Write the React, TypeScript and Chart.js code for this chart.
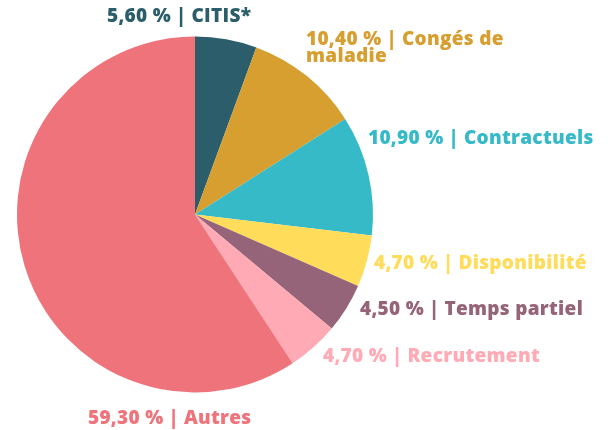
import React, { useEffect, useRef } from "react";
import { Chart, registerables } from "chart.js";

Chart.register(...registerables);

const categories = ["CITIS*", "Congés de maladie", "Contractuels", "Disponibilité", "Temps partiel", "Recrutement", "Autres"];
const values = [5.6, 10.4, 10.9, 4.7, 4.5, 4.7, 59.3];
const valueLabels = ["5,60 %", "10,40 %", "10,90 %", "4,70 %", "4,50 %", "4,70 %", "59,30 %"];
const colors = ["#2b5d6a", "#d69f30", "#36bac8", "#ffdc5a", "#966479", "#ffaab5", "#ef737b"];

// label layout: offset of label's left edge / vertical centre from the pie centre, in pixels
const labelOffsets: [number, number][] = [
  [-88, -197.5],
  [111, -175],
  [173, -76],
  [179, 49.5],
  [165, 95],
  [128, 142],
  [-107, 204],
];
// line breaks for wrapped labels
const labelLines: string[][] = [
  ["5,60 % | CITIS*"],
  ["10,40 % | Congés de", "maladie"],
  ["10,90 % | Contractuels"],
  ["4,70 % | Disponibilité"],
  ["4,50 % | Temps partiel"],
  ["4,70 % | Recrutement"],
  ["59,30 % | Autres"],
];

const labelPlugin = {
  id: "outerLabels",
  afterDatasetsDraw(chart: any) {
    const ctx = chart.ctx as CanvasRenderingContext2D;
    const meta = chart.getDatasetMeta(0);
    const arc0 = meta.data[0];
    if (!arc0) return;
    const cx = arc0.x;
    const cy = arc0.y;
    ctx.save();
    ctx.font = "800 19px 'Open Sans'";
    ctx.textAlign = "left";
    ctx.textBaseline = "middle";
    (ctx as any).letterSpacing = "0.3px";
    labelLines.forEach((lines, i) => {
      ctx.fillStyle = colors[i];
      const [dx, dy] = labelOffsets[i];
      lines.forEach((line, j) => {
        ctx.fillText(line, cx + dx, cy + dy + j * 17.5);
      });
    });
    ctx.restore();
  },
};

export default function App() {
  const ref = useRef<HTMLCanvasElement | null>(null);
  useEffect(() => {
    document.body.style.margin = "0";
    if (!ref.current) return;
    const chart = new Chart(ref.current, {
      type: "pie",
      data: {
        labels: categories.map((c, i) => `${valueLabels[i]} | ${c}`),
        datasets: [
          {
            data: values,
            backgroundColor: colors,
            borderWidth: 0,
            hoverOffset: 0,
          },
        ],
      },
      options: {
        responsive: false,
        animation: false,
        layout: { padding: { left: 17, right: 235, top: 36, bottom: 37 } },
        plugins: {
          legend: { display: false },
          tooltip: { enabled: false },
        },
      },
      plugins: [labelPlugin],
    });
    return () => chart.destroy();
  }, []);
  return (
    <div style={{ width: 608, height: 430 }}>
      <canvas ref={ref} width={608} height={430} />
    </div>
  );
}
